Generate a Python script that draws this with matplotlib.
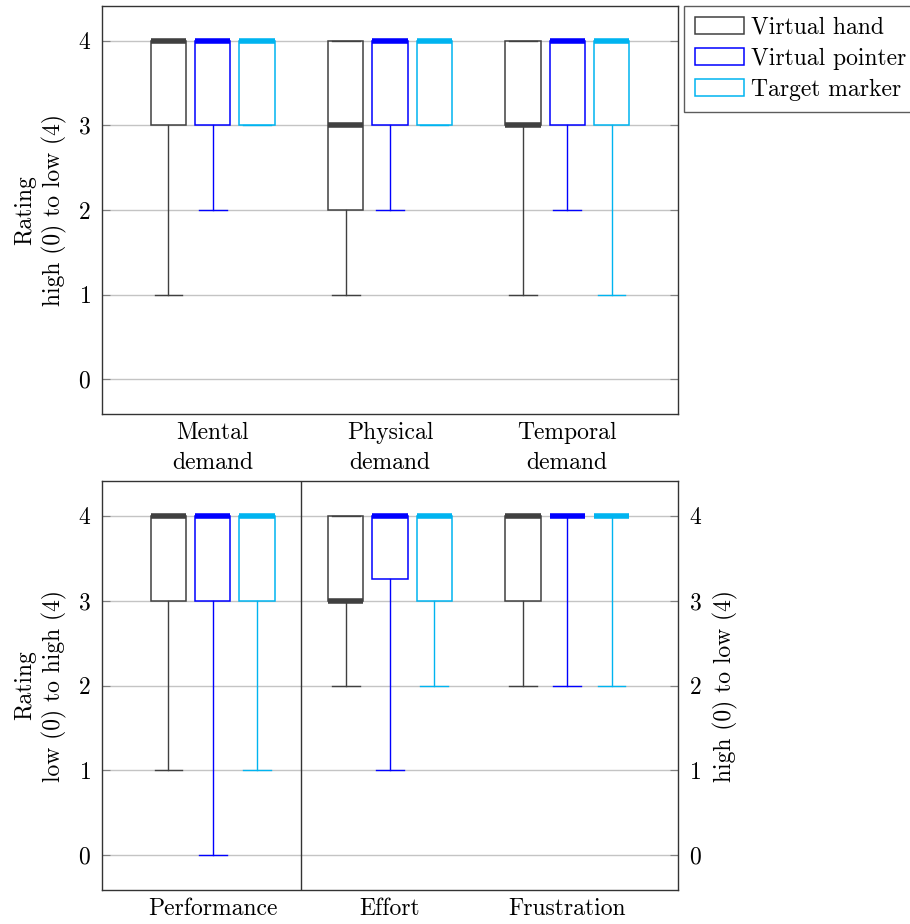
import matplotlib
matplotlib.use("Agg")
import matplotlib.pyplot as plt
from matplotlib.patches import Patch

plt.rcParams['font.family'] = ['cmr10', 'DejaVu Serif']
plt.rcParams['axes.formatter.use_mathtext'] = True
plt.rcParams['mathtext.fontset'] = 'cm'

series = ["Virtual hand", "Virtual pointer", "Target marker"]
top_categories = ["Mental\ndemand", "Physical\ndemand", "Temporal\ndemand"]
bottom_categories = ["Performance", "Effort", "Frustration"]

# five-number summaries: [whisker low, q1, median, q3, whisker high]
top_hand = [[1, 3, 4, 4, 4], [1, 2, 3, 4, 4], [1, 3, 3, 4, 4]]
top_pointer = [[2, 3, 4, 4, 4], [2, 3, 4, 4, 4], [2, 3, 4, 4, 4]]
top_marker = [[3, 3, 4, 4, 4], [3, 3, 4, 4, 4], [1, 3, 4, 4, 4]]

bottom_hand = [[1, 3, 4, 4, 4], [2, 3, 3, 4, 4], [2, 3, 4, 4, 4]]
bottom_pointer = [[0, 3, 4, 4, 4], [1, 3.25, 4, 4, 4], [2, 4, 4, 4, 4]]
bottom_marker = [[1, 3, 4, 4, 4], [2, 3, 4, 4, 4], [2, 4, 4, 4, 4]]

y_ticks = [0, 1, 2, 3, 4]

colors = ["#404040", "#0000ff", "#00b4f0"]
FS = 17

W, H = 910, 924
fig = plt.figure(figsize=(W / 100, H / 100), dpi=100)

AX_L, AX_R = 102, 678


def px_axes(l, t, r, b):
    return fig.add_axes([l / W, 1 - b / H, (r - l) / W, (b - t) / H])


def draw(ax, groups, cats):
    for s, data in enumerate(groups):
        stats = []
        pos = []
        for g, v in enumerate(data):
            stats.append(dict(whislo=v[0], q1=v[1], med=v[2], q3=v[3], whishi=v[4], fliers=[]))
            pos.append(1 + 4 * g + s)
        c = colors[s]
        ax.bxp(stats, positions=pos, widths=0.8, capwidths=0.63, showfliers=False,
               patch_artist=True,
               boxprops=dict(facecolor='white', edgecolor=c, linewidth=1.1),
               whiskerprops=dict(color=c, linewidth=1.0),
               capprops=dict(color=c, linewidth=1.0),
               medianprops=dict(color=c, linewidth=4, solid_capstyle='butt'),
               zorder=3)
    ax.set_xlim(-0.5, 12.5)
    ax.set_ylim(-0.41, 4.41)
    ax.set_xticks([2, 6, 10])
    ax.set_xticklabels(cats, fontsize=FS, linespacing=1.45)
    ax.set_yticks(y_ticks)
    ax.yaxis.grid(True, color='#c4c4c4', linewidth=1.0, zorder=0)
    ax.set_axisbelow(True)
    ax.tick_params(axis='x', length=0, pad=6)
    ax.tick_params(axis='y', direction='in', length=6, color='#808080', labelsize=FS,
                   left=True, right=True, pad=8)
    for sp in ax.spines.values():
        sp.set_color('#333333')
        sp.set_linewidth(1.0)


ax1 = px_axes(AX_L, 6, AX_R, 414)
draw(ax1, [top_hand, top_pointer, top_marker], top_categories)
ax1.set_ylabel("Rating\nhigh (0) to low (4)", fontsize=FS, linespacing=1.3, labelpad=8)

handles = [Patch(facecolor='white', edgecolor=c, linewidth=1.1) for c in colors]
leg = ax1.legend(handles, series, loc='upper left',
                 bbox_to_anchor=((684 - AX_L) / (AX_R - AX_L), 1.0),
                 fontsize=FS, frameon=True, fancybox=False, handlelength=2.1, handleheight=0.7,
                 handletextpad=0.3, borderpad=0.45, labelspacing=0.38, borderaxespad=0)
leg.get_frame().set_edgecolor('#333333')
leg.get_frame().set_linewidth(1.0)

ax2 = px_axes(AX_L, 481, AX_R, 890)
draw(ax2, [bottom_hand, bottom_pointer, bottom_marker], bottom_categories)
ax2.set_ylabel("Rating\nlow (0) to high (4)", fontsize=FS, linespacing=1.3, labelpad=8)
ax2.tick_params(axis='y', labelright=True)
ax2.axvline(4, color='#333333', linewidth=1.0, zorder=4)
ax2.text(1 + (725 - AX_R) / (AX_R - AX_L), 0.5, "high (0) to low (4)", fontsize=FS,
         rotation=90, ha='center', va='center', transform=ax2.transAxes)

fig.savefig("out.png", dpi=100)
